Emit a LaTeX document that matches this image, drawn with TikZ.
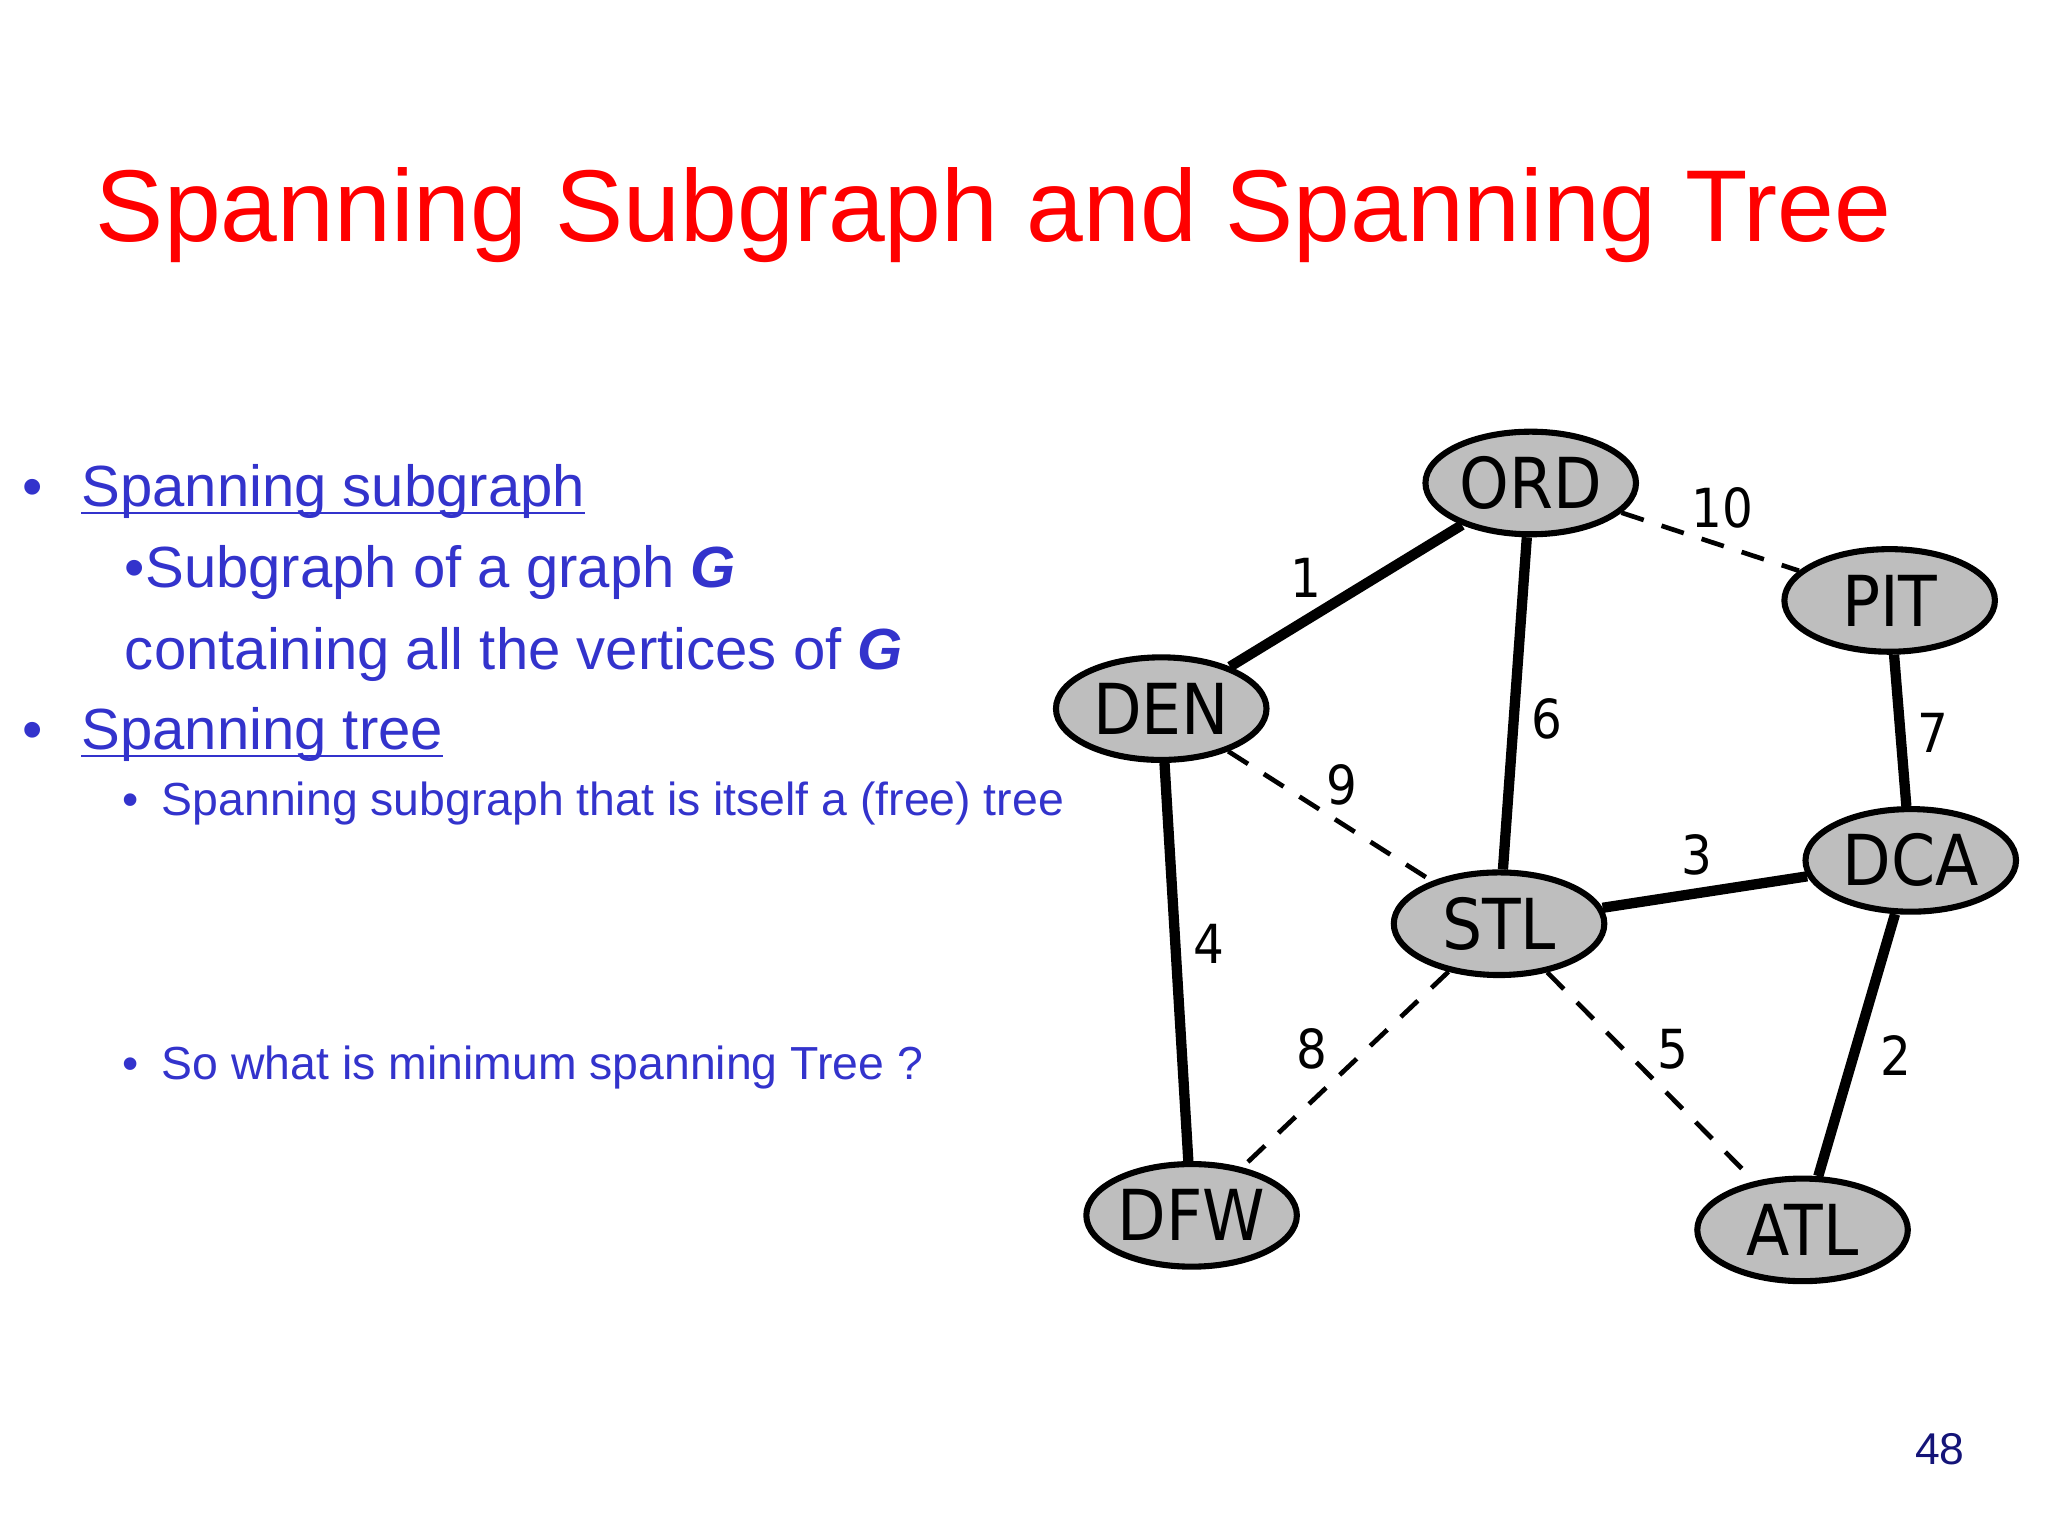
\documentclass[tikz,border=0pt]{standalone}
\usepackage{fontspec}
\setmainfont{Liberation Sans}
\newfontfamily\nodefont{DejaVu Sans Condensed}
\usetikzlibrary{shapes.geometric}
\definecolor{tblue}{RGB}{51,51,204}
\definecolor{nfill}{RGB}{190,190,190}
\newcommand{\ul}[1]{\underline{\smash{#1}}}
\begin{document}
\begin{tikzpicture}[x=0.0099cm,y=-0.0099cm,
  city/.style={ellipse,draw,line width=1.3pt,fill=nfill,minimum width=1.58cm,minimum height=0.77cm,inner sep=0pt,font=\nodefont\fontsize{15}{15}\selectfont},
  tree/.style={line width=2.2pt},
  nontree/.style={line width=1pt,dash pattern=on 5pt off 4pt},
  wlab/.style={font=\nodefont\fontsize{11.5}{11.5}\selectfont},
  big/.style={anchor=base west,inner sep=0pt,text=tblue,font=\fontsize{12.4}{14}\selectfont},
  small/.style={anchor=base west,inner sep=0pt,text=tblue,font=\fontsize{9.9}{11}\selectfont}]
\useasboundingbox (0,0) rectangle (1552,1164);
\node[anchor=base west,inner sep=0pt,text=red,font=\fontsize{21.8}{24}\selectfont] (title) at (72,183) {Spanning Subgraph and Spanning Tree};
\node[big] (b1) at (16,384) {•};
\node[big] (t1) at (61,384) {\ul{Spanning subgraph}};
\node[big] (t2) at (94,445) {•Subgraph of a graph \textbf{\textit{G}}};
\node[big] (t3) at (94,507) {containing all the vertices of \textbf{\textit{G}}};
\node[big] (b2) at (16,568) {•};
\node[big] (t4) at (61,568) {\ul{Spanning tree}};
\node[small] (b3) at (92,618) {•};
\node[small] (t5) at (122,618) {Spanning subgraph that is itself a (free) tree};
\node[small] (b4) at (92,818) {•};
\node[small] (t6) at (122,818) {So what is minimum spanning Tree ?};
\node[text={rgb,255:red,20;green,20;blue,120},font=\fontsize{9.5}{10}\selectfont] (pg) at (1470,1098) {48};

\node[city] (ORD) at (1160,366) {ORD};
\node[city] (PIT) at (1432,455) {PIT};
\node[city] (DEN) at (880,537) {DEN};
\node[city] (DCA) at (1448,652) {DCA};
\node[city] (STL) at (1136,700) {STL};
\node[city] (DFW) at (903,921) {DFW};
\node[city] (ATL) at (1366,932) {ATL};

\draw[tree] (DEN) -- (ORD);
\draw[tree] (ORD) -- (STL);
\draw[tree] (PIT) -- (DCA);
\draw[tree] (STL) -- (DCA);
\draw[tree] (DEN) -- (DFW);
\draw[tree] (DCA) -- (ATL);
\draw[nontree] (ORD) -- (PIT);
\draw[nontree] (DEN) -- (STL);
\draw[nontree] (STL) -- (DFW);
\draw[nontree] (STL) -- (ATL);

\node[wlab] (w1) at (990,438) {1};
\node[wlab] (w10) at (1305,385) {10};
\node[wlab] (w6) at (1172,545) {6};
\node[wlab] (w7) at (1465,555) {7};
\node[wlab] (w9) at (1017,595) {9};
\node[wlab] (w3) at (1286,648) {3};
\node[wlab] (w4) at (916,715) {4};
\node[wlab] (w8) at (994,795) {8};
\node[wlab] (w5) at (1268,795) {5};
\node[wlab] (w2) at (1437,800) {2};
\end{tikzpicture}
\end{document}
